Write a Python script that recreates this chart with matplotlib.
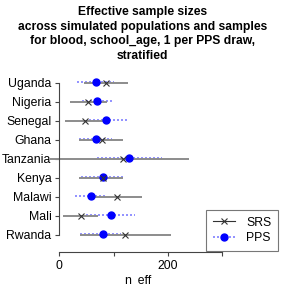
import matplotlib

matplotlib.use("Agg")

import matplotlib.pyplot as plt
from matplotlib.lines import Line2D
import numpy as np

plt.rcParams["font.family"] = ["Liberation Sans", "DejaVu Sans"]

countries = ["Uganda", "Nigeria", "Senegal", "Ghana", "Tanzania",
             "Kenya", "Malawi", "Mali", "Rwanda"]

srs_est = [86, 53, 47, 78, 118, 81, 107, 40, 121]
srs_lo = [46, 20, 10, 36, -17, 36, 55, 7, 38]
srs_hi = [126, 88, 86, 118, 239, 118, 153, 72, 207]

pps_est = [67, 70, 86, 67, 129, 81, 58, 95, 81]
pps_lo = [33, 42, 54, 36, 70, 40, 29, 50, 38]
pps_hi = [100, 100, 129, 98, 189, 122, 88, 140, 114]

x_ticks = [0, 100, 200, 300]
x_tick_labels = ["0", "", "200", ""]

W, H = 285, 285
fig = plt.figure(figsize=(W / 100, H / 100), dpi=100)

# axes placed in pixel terms: y axis at x=59.3px, bottom spine at y=251.7px
left_px, right_px = 59.3, 280.0
bottom_px, top_px = 251.7, 70.0
ax = fig.add_axes([left_px / W, 1 - bottom_px / H,
                   (right_px - left_px) / W, (bottom_px - top_px) / H])

px_per_unit = 0.542
ax.set_xlim(0, (right_px - left_px) / px_per_unit)
row_px = 19.0
n = len(countries)
ypos = np.arange(n, 0, -1)
ax.set_ylim(1 - (bottom_px - 234.5) / row_px, n + (82.5 - top_px) / row_px)

off = 0.05
for i in range(n):
    y = ypos[i]
    ax.plot([pps_lo[i], pps_hi[i]], [y + off, y + off], color="#7f7fff",
            lw=1.2, ls=(0, (1.2, 1.2)), clip_on=False, zorder=2)
    ax.plot([srs_lo[i], srs_hi[i]], [y - off, y - off], color="#8c8c8c",
            lw=1.4, solid_capstyle="butt", clip_on=False, zorder=2)
ax.plot(pps_est, ypos + off, "o", color="blue", ms=5, mec="blue",
        ls="none", clip_on=False, zorder=3)
ax.plot(srs_est, ypos - off, "x", color="#333333", ms=4.6, mew=0.8,
        ls="none", clip_on=False, zorder=4)

for s in ["top", "right"]:
    ax.spines[s].set_visible(False)
ax.spines["left"].set_bounds(1, n)
ax.spines["bottom"].set_bounds(0, 300)
for s in ["left", "bottom"]:
    ax.spines[s].set_color("#444444")
    ax.spines[s].set_linewidth(0.8)

ax.set_yticks(ypos)
ax.set_yticklabels(countries, fontsize=8.8)
ax.set_xticks(x_ticks)
ax.set_xticklabels(x_tick_labels, fontsize=8.8)
ax.tick_params(axis="both", length=3.2, width=0.8, color="#444444", pad=2.5)

fig.text(138 / W, 1 - 280 / H, "n_eff", ha="center", va="center", fontsize=8.8)

fig.text(0.5, 1 - 6 / H,
         "Effective sample sizes\nacross simulated populations and samples\n"
         "for blood, school_age, 1 per PPS draw,\nstratified",
         ha="center", va="top", fontsize=8.7, fontweight="bold", linespacing=1.3)

handles = [
    Line2D([0], [0], color="#333333", lw=0.8, marker="x", ms=4.6, mew=0.8,
           label="SRS"),
    Line2D([0], [0], color="#7f7fff", lw=1.2, ls=(0, (1.2, 1.2)), marker="o",
           ms=5, mfc="blue", mec="blue", label="PPS"),
]
leg = fig.legend(handles=handles, loc="lower right",
                 bbox_to_anchor=(278 / W, 1 - 251 / H), borderaxespad=0,
                 fontsize=8.8, frameon=True, fancybox=False, handlelength=1.8,
                 borderpad=0.55, labelspacing=0.3, handletextpad=0.9)
leg.get_frame().set_edgecolor("#555555")
leg.get_frame().set_linewidth(0.8)

fig.savefig("out.png", dpi=100)
